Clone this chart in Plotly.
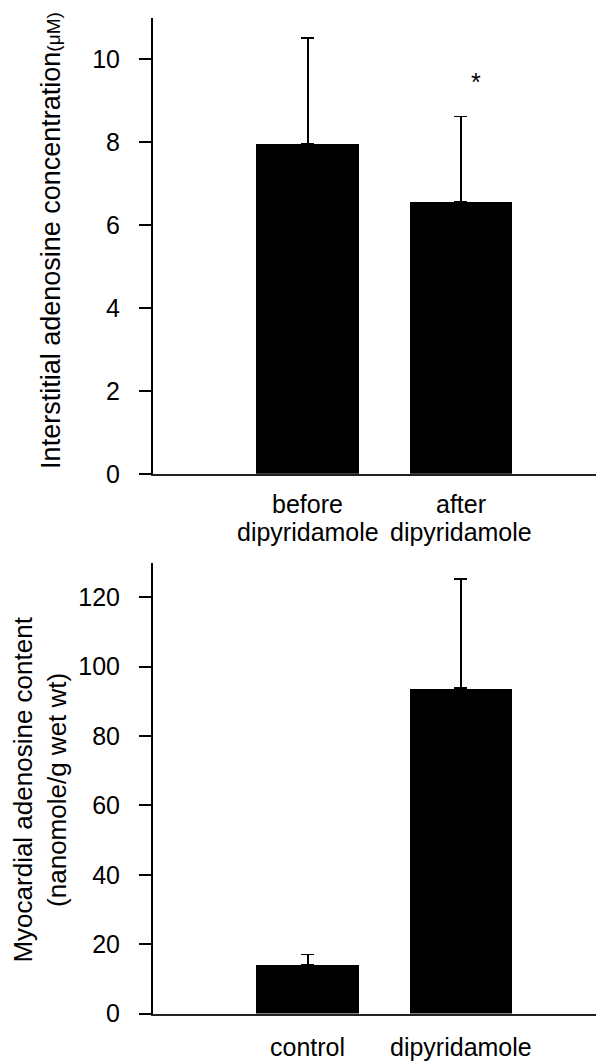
import plotly.graph_objects as go

# ---- data ----
top_categories = ["before dipyridamole", "after dipyridamole"]
top_label_lines = [["before", "dipyridamole"], ["after", "dipyridamole"]]
top_values = [7.95, 6.57]
top_errors = [2.57, 2.05]
top_ticks = [0, 2, 4, 6, 8, 10]
top_star_text = "*"

bottom_categories = ["control", "dipyridamole"]
bottom_label_lines = [["control"], ["dipyridamole"]]
bottom_values = [14.2, 93.8]
bottom_errors = [2.8, 31.5]
bottom_ticks = [0, 20, 40, 60, 80, 100, 120]

W, H = 604, 1063
FONT = "Liberation Sans, Arial, Helvetica, sans-serif"

def px_x(p):
    return p / W

def px_y(p):
    return 1 - p / H

fig = go.Figure()

xpos = [0, 1]

fig.add_trace(go.Bar(
    x=xpos, y=top_values, width=0.67,
    marker=dict(color="black", line=dict(width=0)),
    error_y=dict(type="data", symmetric=False, array=top_errors,
                 arrayminus=[0] * len(top_errors),
                 color="black", thickness=1.6, width=6.5),
    xaxis="x", yaxis="y", showlegend=False,
    hovertext=top_categories,
))

fig.add_trace(go.Bar(
    x=xpos, y=bottom_values, width=0.67,
    marker=dict(color="black", line=dict(width=0)),
    error_y=dict(type="data", symmetric=False, array=bottom_errors,
                 arrayminus=[0] * len(bottom_errors),
                 color="black", thickness=1.6, width=6.5),
    xaxis="x2", yaxis="y2", showlegend=False,
    hovertext=bottom_categories,
))

xdom = [px_x(145), px_x(600)]
xrange = [-1.01, 1.96]

axis_x_common = dict(
    range=xrange, showgrid=False, zeroline=False, showline=True,
    linecolor="#222", linewidth=1.5, ticks="", showticklabels=False,
    fixedrange=True,
)
axis_y_common = dict(
    showgrid=False, zeroline=False, showline=True, linecolor="black",
    linewidth=2, ticks="outside", ticklen=12, tickwidth=1.5,
    tickcolor="black", tickfont=dict(family=FONT, size=25, color="black"),
    ticklabelstandoff=14,
)

fig.update_layout(
    width=W, height=H,
    margin=dict(l=0, r=0, t=0, b=0),
    paper_bgcolor="white", plot_bgcolor="white",
    font=dict(family=FONT, color="black"),
    bargap=0,
    xaxis=dict(domain=xdom, anchor="y", **axis_x_common),
    yaxis=dict(domain=[px_y(472), px_y(10)], anchor="x", range=[0, 11],
               tickvals=top_ticks, **axis_y_common),
    xaxis2=dict(domain=xdom, anchor="y2", **axis_x_common),
    yaxis2=dict(domain=[px_y(1019), px_y(562)], anchor="x2", range=[0, 130],
                tickvals=bottom_ticks, **axis_y_common),
)

annotations = []
# category labels, top panel
for i, lines in enumerate(top_label_lines):
    for j, line in enumerate(lines):
        annotations.append(dict(
            x=xpos[i], xref="x", y=px_y(503 + 28 * j), yref="paper",
            text=line, showarrow=False, xanchor="center", yanchor="middle",
            font=dict(family=FONT, size=25, color="black"),
        ))
# category labels, bottom panel
for i, lines in enumerate(bottom_label_lines):
    for j, line in enumerate(lines):
        annotations.append(dict(
            x=xpos[i], xref="x2", y=px_y(1053 + 28 * j), yref="paper",
            text=line, showarrow=False, xanchor="center", yanchor="middle",
            font=dict(family=FONT, size=25, color="black"),
        ))
# significance star
annotations.append(dict(
    x=1.10, xref="x", y=9.45, yref="y", text=top_star_text, showarrow=False,
    xanchor="center", yanchor="middle",
    font=dict(family=FONT, size=25, color="black"),
))
# y-axis titles
annotations.append(dict(
    x=px_x(43), xref="paper", y=px_y(236), yref="paper",
    text="Interstitial adenosine concentration<span style='font-size:19px'>(μM)</span>",
    textangle=-90, showarrow=False, xanchor="center", yanchor="middle",
    font=dict(family=FONT, size=27, color="black"),
))
annotations.append(dict(
    x=px_x(32), xref="paper", y=px_y(792), yref="paper",
    text="Myocardial adenosine content<br>(nanomole/g wet wt)",
    textangle=-90, showarrow=False, xanchor="center", yanchor="middle",
    font=dict(family=FONT, size=26, color="black"),
))

fig.update_layout(annotations=annotations)

fig.write_html("out.html")
